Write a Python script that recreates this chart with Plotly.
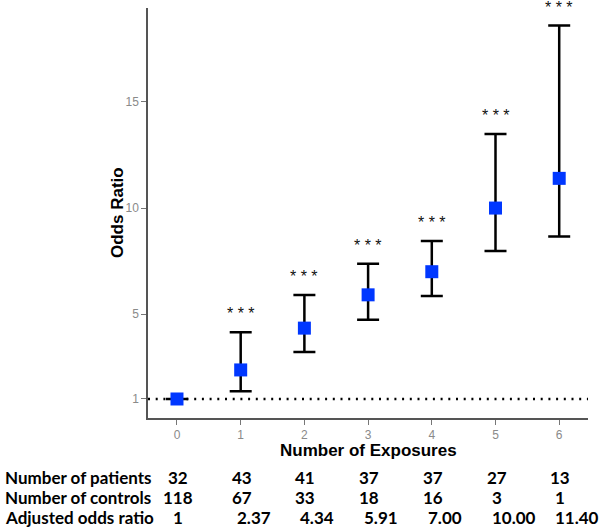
import plotly.graph_objects as go

# ---- data ----
exposures = [0, 1, 2, 3, 4, 5, 6]
odds_ratio = [1.00, 2.37, 4.34, 5.91, 7.00, 10.00, 11.40]
ci_lower = [1.00, 1.36, 3.22, 4.73, 5.86, 7.98, 8.66]
ci_upper = [1.00, 4.15, 5.90, 7.37, 8.45, 13.49, 18.60]
significance = ["", "***", "***", "***", "***", "***", "***"]
y_ticks = [1, 5, 10, 15]

row_labels = ["Number of patients", "Number of controls", "Adjusted odds ratio"]
n_patients = ["32", "43", "41", "37", "37", "27", "13"]
n_controls = ["118", "67", "33", "18", "16", "3", "1"]
adj_or_text = ["1", "2.37", "4.34", "5.91", "7.00", "10.00", "11.40"]

err_plus = [u - o for u, o in zip(ci_upper, odds_ratio)]
err_minus = [o - l for o, l in zip(odds_ratio, ci_lower)]

fig = go.Figure()

# reference line at OR = 1
fig.add_shape(type="line", xref="paper", yref="y", x0=0, x1=1, y0=1, y1=1,
              line=dict(color="black", width=2.5, dash="2px,5.7px"), layer="below")

# error bars
fig.add_trace(go.Scatter(
    x=exposures, y=odds_ratio, mode="markers",
    marker=dict(size=1, opacity=0),
    error_y=dict(type="data", symmetric=False, array=err_plus, arrayminus=err_minus,
                 color="black", thickness=2.5, width=11),
    hoverinfo="skip", showlegend=False))

# points
fig.add_trace(go.Scatter(
    x=exposures, y=odds_ratio, mode="markers",
    marker=dict(symbol="square", size=13, color="#0037ff", line=dict(width=0)),
    showlegend=False))

annotations = []
# significance stars
for x, u, s in zip(exposures, ci_upper, significance):
    if s:
        annotations.append(dict(x=x, y=u, xref="x", yref="y", text=" ".join(s),
                                showarrow=False, yanchor="bottom", yshift=8,
                                font=dict(family="Liberation Sans, Arial", size=16, color="#111111")))

# axis titles
annotations.append(dict(x=0, y=0.5, xref="paper", yref="paper", text="Odds Ratio",
                        textangle=-90, showarrow=False, xanchor="center", yanchor="middle",
                        xshift=-31,
                        font=dict(family="Liberation Sans, Arial", size=17, color="black", weight=700)))
annotations.append(dict(x=0.5, y=0, xref="paper", yref="paper", text="Number of Exposures",
                        showarrow=False, xanchor="center", yanchor="middle", yshift=-32,
                        font=dict(family="Liberation Sans, Arial", size=17, color="black", weight=700)))

# table below the chart
table_font = dict(family="Lato, Liberation Sans", size=17, color="black", weight=700)
row_shifts = [-59, -79, -99.5]
for lbl, ys in zip(row_labels, row_shifts):
    annotations.append(dict(x=0, y=0, xref="paper", yref="paper", text=lbl, showarrow=False,
                            xanchor="left", yanchor="middle", xshift=-145, yshift=ys,
                            font=table_font))
for x, t in zip(exposures, n_patients):
    annotations.append(dict(x=x, y=0, xref="x", yref="paper", text=t, showarrow=False,
                            xanchor="center", yanchor="middle", xshift=1, yshift=row_shifts[0],
                            font=table_font))
for x, t in zip(exposures, n_controls):
    annotations.append(dict(x=x, y=0, xref="x", yref="paper", text=t, showarrow=False,
                            xanchor="center", yanchor="middle", xshift=1, yshift=row_shifts[1],
                            font=table_font))
for x, t in zip(exposures, adj_or_text):
    annotations.append(dict(x=x, y=0, xref="x", yref="paper", text=t, showarrow=False,
                            xanchor="left", yanchor="middle", xshift=-6, yshift=row_shifts[2],
                            font=table_font))

fig.update_layout(
    width=600, height=529,
    margin=dict(l=148, r=12, t=8, b=111, autoexpand=False),
    paper_bgcolor="white", plot_bgcolor="white",
    annotations=annotations,
    xaxis=dict(range=[-0.455, 6.452], tickmode="array", tickvals=exposures,
               ticktext=[str(e) for e in exposures],
               showgrid=False, zeroline=False, showline=True, linecolor="#555555", linewidth=1.5,
               ticks="outside", ticklen=5, tickwidth=1.2, tickcolor="#777777",
               tickfont=dict(family="Liberation Sans, Arial", size=12, color="#8a8a8a")),
    yaxis=dict(range=[0.104, 19.43], tickmode="array", tickvals=y_ticks,
               ticktext=[str(t) for t in y_ticks],
               showgrid=False, zeroline=False, showline=True, linecolor="#555555", linewidth=1.5,
               ticks="outside", ticklen=5, tickwidth=1.2, tickcolor="#777777",
               tickfont=dict(family="Liberation Sans, Arial", size=12, color="#8a8a8a")),
)

fig.write_html("out.html", config={"displayModeBar": False},
               post_script="document.body.style.margin='0';document.body.style.padding='0';document.body.style.overflow='hidden';")
